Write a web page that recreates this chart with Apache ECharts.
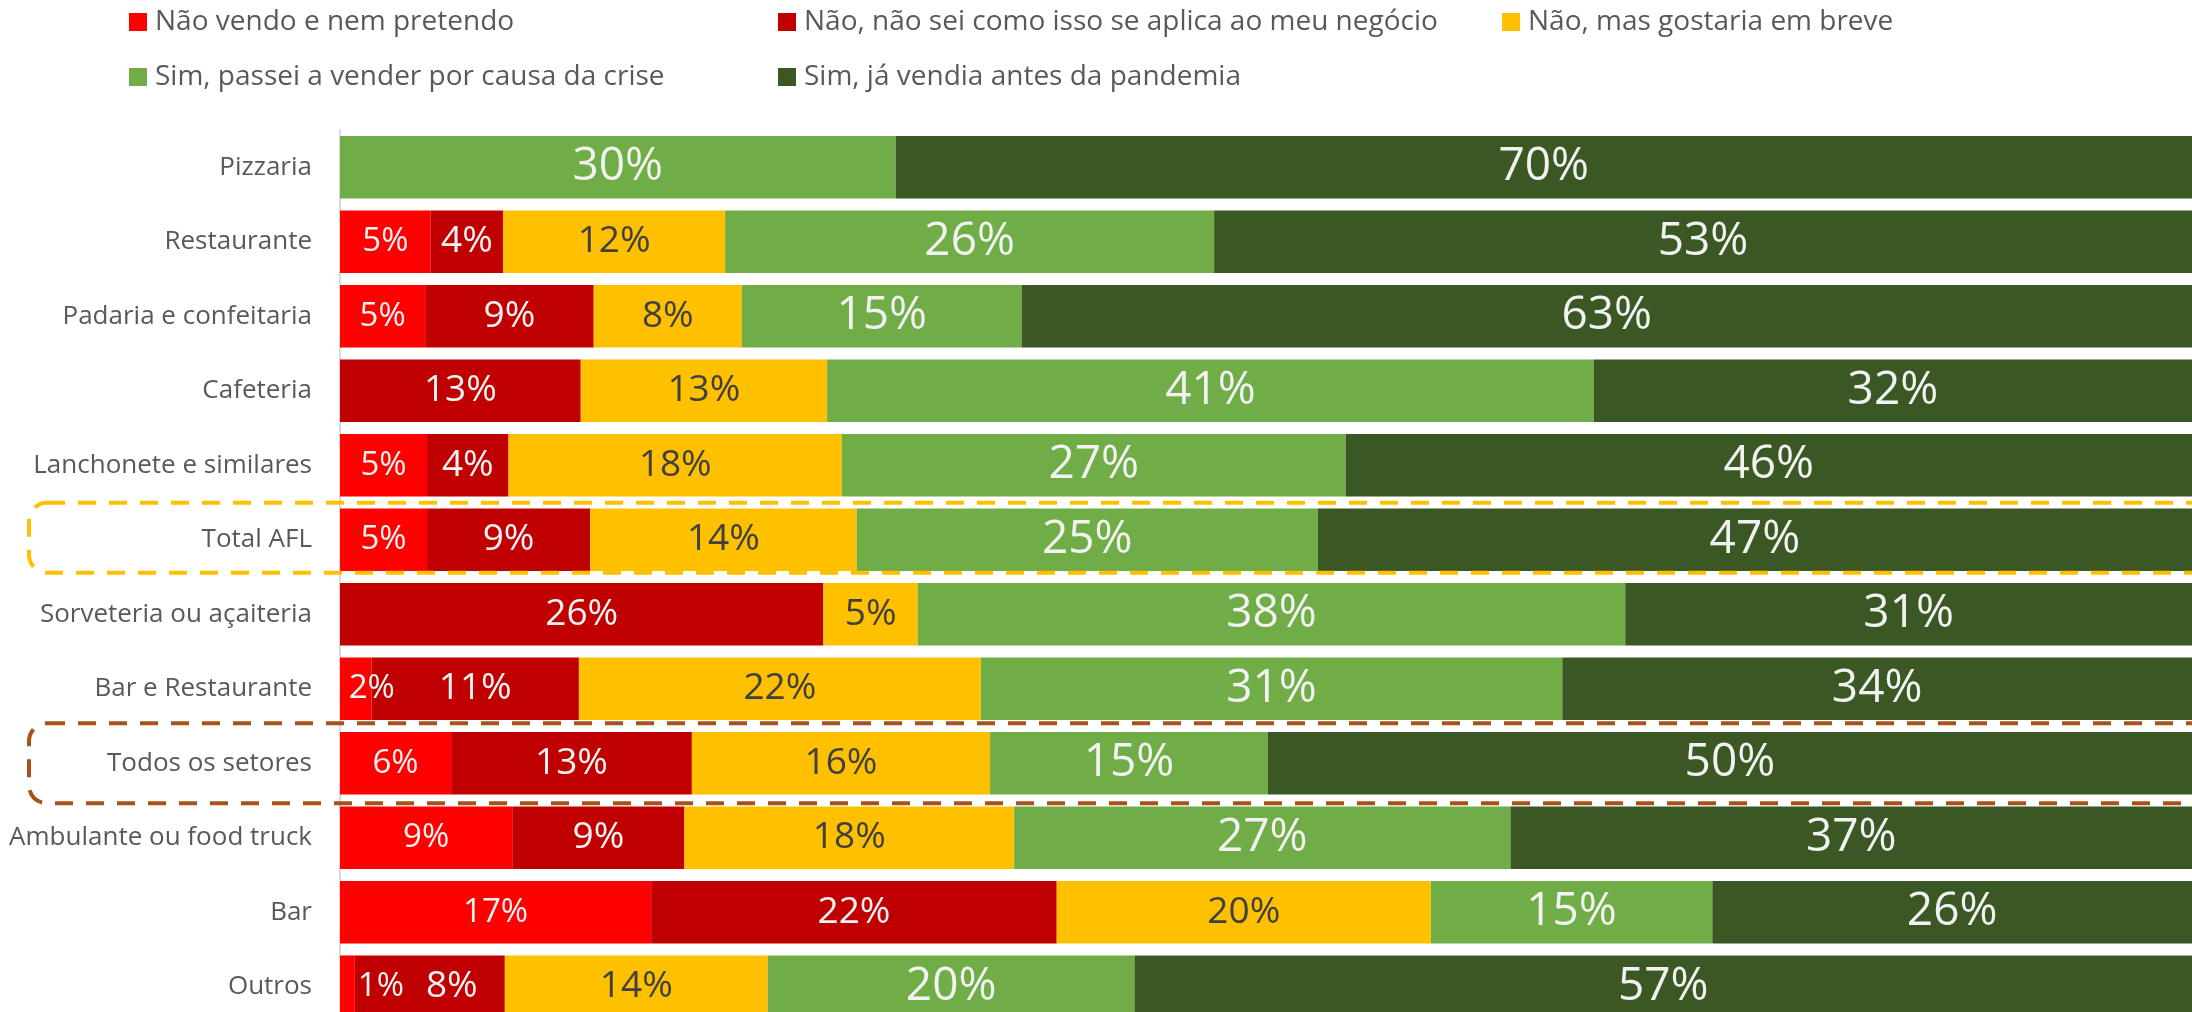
<!DOCTYPE html>
<html>
<head>
<meta charset="utf-8">
<script src="https://cdn.jsdelivr.net/npm/echarts@6/dist/echarts.min.js"></script>
<style>
  html, body { margin: 0; padding: 0; background: #fff; }
  #chart { width: 2192px; height: 1012px; }
</style>
</head>
<body>
<div id="chart"></div>
<script>
// categorias (de cima para baixo)
var categorias = ['Pizzaria', 'Restaurante', 'Padaria e confeitaria', 'Cafeteria',
  'Lanchonete e similares', 'Total AFL', 'Sorveteria ou açaiteria', 'Bar e Restaurante',
  'Todos os setores', 'Ambulante ou food truck', 'Bar', 'Outros'];

var nomes = ['Não vendo e nem pretendo', 'Não, não sei como isso se aplica ao meu negócio',
  'Não, mas gostaria em breve', 'Sim, passei a vender por causa da crise',
  'Sim, já vendia antes da pandemia'];

// percentuais
var naoVendo = [0, 4.9, 4.6, 0, 4.7, 4.7, 0, 1.7, 6.0, 9.3, 16.8, 0.8];
var naoSei   = [0, 3.9, 9.1, 13.0, 4.4, 8.8, 26.1, 11.2, 13.0, 9.3, 21.9, 8.1];
var naoBreve = [0, 12.0, 8.0, 13.3, 18.0, 14.4, 5.1, 21.7, 16.1, 17.8, 20.2, 14.2];
var simCrise = [30.0, 26.4, 15.1, 41.4, 27.2, 24.9, 38.2, 31.4, 15.0, 26.8, 15.2, 19.8];
var simAntes = [70.0, 52.8, 63.2, 32.3, 45.7, 47.2, 30.6, 34.0, 49.9, 36.8, 25.9, 57.1];

var valores = [naoVendo, naoSei, naoBreve, simCrise, simAntes];
var cores = ['#FF0000', '#C00000', '#FFC000', '#70AD47', '#3A5724'];
var corTexto = ['#F2F2F2', '#F2F2F2', '#404040', '#F2F2F2', '#F2F2F2'];
var tamTexto = [33, 37, 37, 46, 46];

// posicao das legendas (duas linhas, como no original)
var legPos = [[124, 3], [773, 3], [1497, 3], [124, 58], [773, 58]];

var chart = echarts.init(document.getElementById('chart'));

var series = valores.map(function (arr, s) {
  return {
    name: nomes[s],
    type: 'bar',
    stack: 'total',
    barCategoryGap: '16%',
    itemStyle: { color: cores[s] },
    label: {
      show: true,
      position: 'inside',
      color: corTexto[s],
      fontSize: tamTexto[s],
      fontFamily: 'Open Sans',
      formatter: function (p) {
        return p.value > 0 ? Math.round(p.value) + '%' : '';
      }
    },
    data: arr.map(function (v, i) {
      // rotulos muito estreitos: deslocados como no original
      if (categorias[i] === 'Outros' && s === 0) {
        return { value: v, label: { position: 'right', distance: 3 } };
      }
      if (categorias[i] === 'Outros' && s === 1) {
        return { value: v, label: { offset: [22, 0] } };
      }
      if (categorias[i] === 'Bar e Restaurante' && s === 0) {
        return { value: v, label: { offset: [16, 0] } };
      }
      return v;
    })
  };
});

var option = {
  animation: false,
  legend: nomes.map(function (n, i) {
    return {
      data: [n],
      left: legPos[i][0],
      top: legPos[i][1],
      icon: 'rect',
      itemWidth: 18,
      itemHeight: 18,
      selectedMode: false,
      textStyle: { fontSize: 28, color: '#595959', fontFamily: 'Open Sans', padding: [0, 0, 0, 3] }
    };
  }),
  grid: { left: 340, top: 130, height: 894, right: 0, outerBoundsMode: 'none', containLabel: false },
  xAxis: { type: 'value', min: 0, max: 100, show: false },
  yAxis: {
    type: 'category',
    inverse: true,
    data: categorias,
    axisTick: { show: false },
    axisLine: { lineStyle: { color: '#D9D9D9', width: 2 } },
    axisLabel: { fontSize: 26, color: '#595959', fontFamily: 'Open Sans', margin: 28 }
  },
  series: series
};

chart.setOption(option);

// caixas tracejadas em volta de "Total AFL" e "Todos os setores"
function caixa(cat, cor, acima, abaixo) {
  var y = chart.convertToPixel({ yAxisIndex: 0 }, cat);
  return {
    type: 'rect',
    z: 100,
    silent: true,
    shape: { x: 29, y: y - acima, width: 2192, height: acima + abaixo, r: [18, 0, 0, 18] },
    style: { fill: null, stroke: cor, lineWidth: 4, lineDash: [18, 13] }
  };
}

chart.setOption({
  graphic: [
    caixa('Total AFL', '#FFC000', 37, 33),
    caixa('Todos os setores', '#A5521B', 40, 40)
  ]
});
</script>
</body>
</html>
